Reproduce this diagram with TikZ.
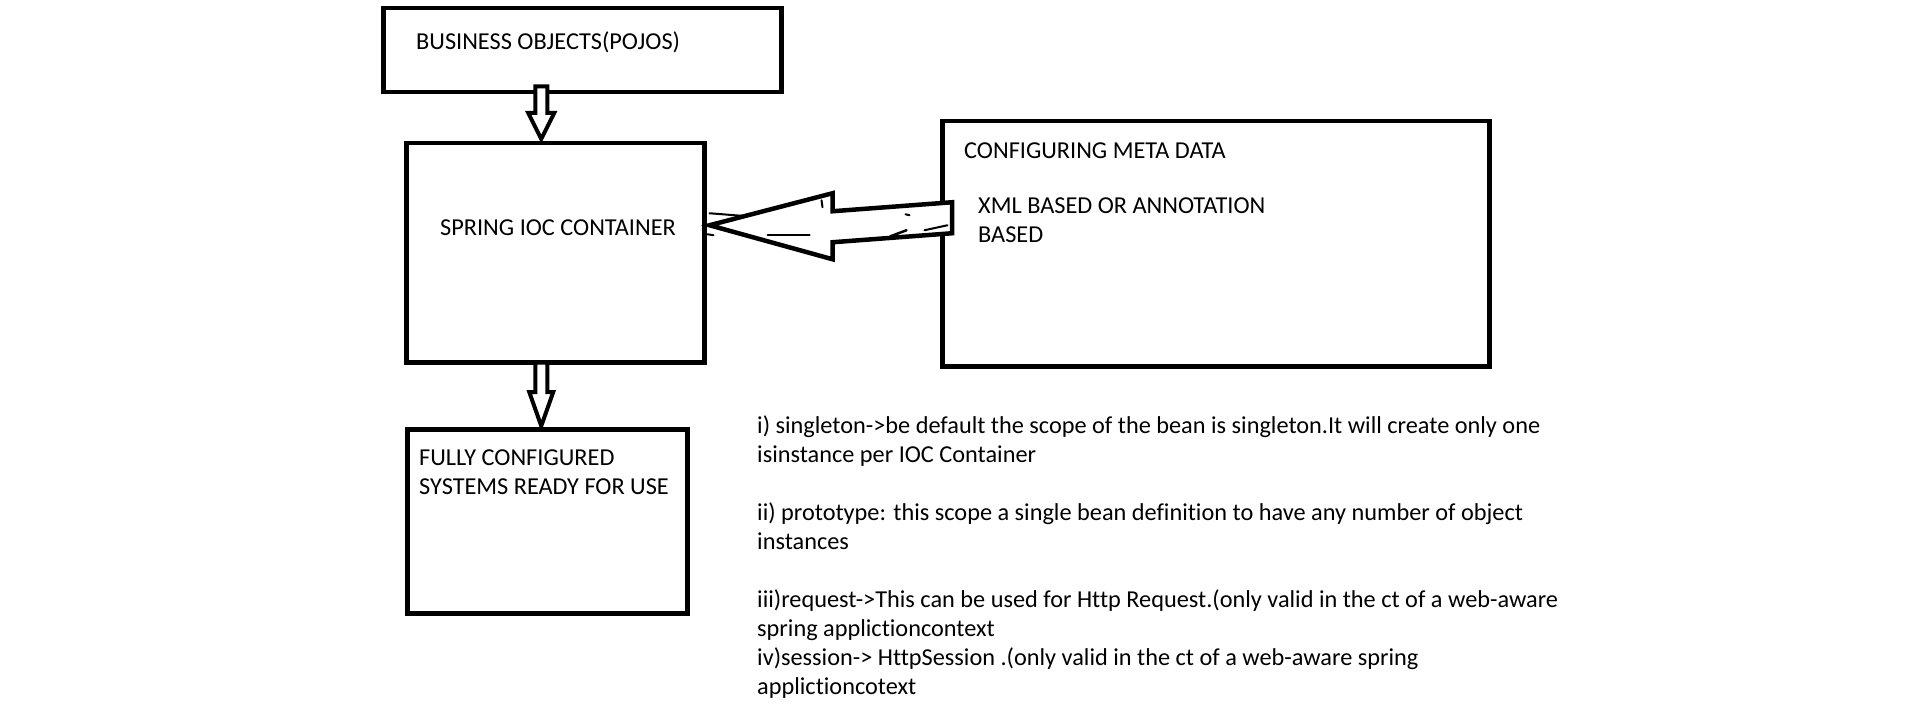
\documentclass[tikz,border=0pt]{standalone}
\usepackage{fontspec}
\setmainfont{Carlito}[Ligatures=NoCommon]
\usetikzlibrary{calc}
\begin{document}
\begin{tikzpicture}[x=1pt,y=-1pt,
  box/.style={draw=black,line width=4.5pt,rectangle,minimum width=#1,inner sep=0pt},
  lbl/.style={anchor=base west,inner sep=0pt,font=\fontsize{24.3}{29}\selectfont},
  hollow/.style={draw=black,line width=4pt,line join=miter,fill=white},
  scrib/.style={draw=black,line width=2pt,line cap=round}]
\useasboundingbox (0,0) rectangle (1914,706);
\fill[white] (0,0) rectangle (1914,706);
% boxes
\node[box=398pt,minimum height=84pt,anchor=north west] (biz) at (381,6) {};
\node[box=298pt,minimum height=219pt,anchor=north west] (ioc) at (404,141) {};
\node[box=280pt,minimum height=184pt,anchor=north west] (full) at (405,427) {};
\node[box=547pt,minimum height=245pt,anchor=north west] (meta) at (940,119) {};
% labels
\node[lbl] (bizt) at (416,50) {BUSINESS OBJECTS(POJOS)};
\node[lbl] (ioct) at (440,235) {SPRING IOC CONTAINER};
\node[lbl] (fullt1) at (419,465) {FULLY CONFIGURED};
\node[lbl] (fullt2) at (419,494) {SYSTEMS READY FOR USE};
\node[lbl] (metat) at (964,158) {CONFIGURING META DATA};
\node[lbl] (metat1) at (978,213) {XML BASED OR ANNOTATION};
\node[lbl] (metat2) at (978,242) {BASED};
% arrow biz -> ioc
\coordinate (d1s) at ($(biz.south)+(539-580,-8)$);
\coordinate (d1t) at (ioc.north -| d1s);
\draw[hollow] ($(d1s)+(-6,0)$) -- ($(d1s)+(6,0)$) -- ($(d1t)+(6,-28)$) -- ($(d1t)+(13,-28)$)
  -- ($(d1t)+(0,-2)$) -- ($(d1t)+(-13,-28)$) -- ($(d1t)+(-6,-28)$) -- cycle;
% arrow ioc -> full
\coordinate (d2s) at ($(ioc.south)+(539-553,-2)$);
\coordinate (d2t) at (full.north -| d2s);
\draw[hollow] ($(d2s)+(-6,0)$) -- ($(d2s)+(6,0)$) -- ($(d2t)+(6,-35)$) -- ($(d2t)+(12,-35)$)
  -- ($(d2t)+(0,-1)$) -- ($(d2t)+(-12,-35)$) -- ($(d2t)+(-6,-35)$) -- cycle;
% arrow meta -> ioc
\coordinate (lt) at ($(ioc.east)+(3,-27.5)$);
\coordinate (ls) at ($(meta.west)+(12,-27.5)$);
\draw[hollow,line width=4.5pt] (lt) -- ($(lt)+(123,-32)$) -- ($(lt)+(123,-14)$) -- ($(ls)+(0,-14)$)
  -- ($(ls)+(0,17)$) -- ($(lt)+(123,17)$) -- ($(lt)+(123,34)$) -- cycle;
% sketch marks of the arrow
\draw[scrib] ($(lt)+(0,-12)$) -- ($(lt)+(38,-9)$);
\draw[scrib] ($(lt)+(58,10)$) -- ($(lt)+(100,10)$);
\draw[scrib] ($(lt)+(-2,9)$) -- ($(lt)+(4,10)$);
\draw[scrib] ($(lt)+(112,-25)$) -- ($(lt)+(113,-18)$);
\draw[scrib] ($(lt)+(196,-11)$) -- ($(lt)+(200,-10)$);
\draw[scrib,line width=2.5pt] ($(lt)+(181,11)$) -- ($(lt)+(197,5)$);
\draw[scrib] ($(lt)+(215,5)$) -- ($(lt)+(238,0)$);
% description text
\node[lbl] (d1) at (757,433) {i) singleton->be default the scope of the bean is singleton.It will create only one};
\node[lbl] (d2) at (757,462) {isinstance per IOC Container};
\node[lbl] (d3) at (757,520) {ii) prototype: this scope a single bean definition to have any number of object};
\node[lbl] (d4) at (757,549) {instances};
\node[lbl] (d5) at (757,607) {iii)request->This can be used for Http Request.(only valid in the ct of a web-aware};
\node[lbl] (d6) at (757,636) {spring applictioncontext};
\node[lbl] (d7) at (757,665) {iv)session-> HttpSession .(only valid in the ct of a web-aware spring};
\node[lbl] (d8) at (757,694) {applictioncotext};
\end{tikzpicture}
\end{document}
